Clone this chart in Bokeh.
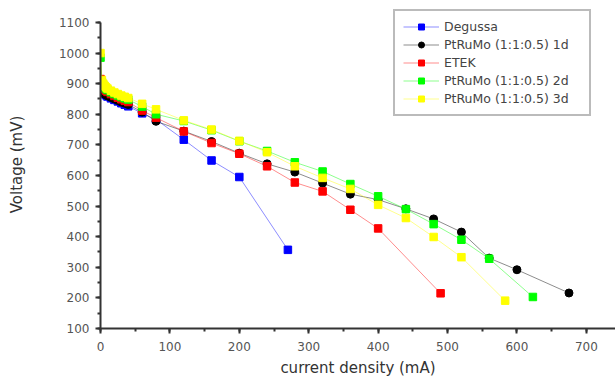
from bokeh.plotting import figure
from bokeh.models import Range1d, SingleIntervalTicker, Legend, LegendItem
from bokeh.embed import file_html
from bokeh.resources import INLINE

# ---- data ----
cur_degussa = [0, 2, 4, 6, 8, 10, 15, 20, 25, 30, 35, 40, 60, 80, 120, 160, 200, 270]
v_degussa = [900, 880, 872, 866, 862, 858, 852, 847, 842, 836, 831, 826, 803, 783, 717, 649, 595, 357]

cur_1d = [0, 2, 4, 6, 8, 10, 15, 20, 25, 30, 35, 40, 60, 80, 120, 160, 200, 240, 280, 320,
          360, 400, 440, 480, 520, 560, 600, 675]
v_1d = [893, 878, 870, 866, 863, 860, 855, 850, 845, 840, 836, 832, 807, 777, 745, 711, 673, 638,
        611, 575, 539, 521, 491, 458, 415, 330, 292, 216]

cur_etek = [0, 2, 4, 6, 8, 10, 15, 20, 25, 30, 35, 40, 60, 80, 120, 160, 200, 240, 280, 320,
            360, 400, 490]
v_etek = [915, 898, 888, 882, 877, 873, 866, 860, 854, 849, 844, 840, 812, 789, 744, 706, 671, 630,
          577, 548, 488, 427, 215]

cur_2d = [0, 2, 4, 6, 8, 10, 15, 20, 25, 30, 35, 40, 60, 80, 120, 160, 200, 240, 280, 320,
          360, 400, 440, 480, 520, 560, 623]
v_2d = [985, 905, 895, 888, 883, 879, 872, 866, 861, 856, 852, 848, 825, 800, 778, 748, 712, 680,
        643, 613, 572, 532, 490, 441, 390, 328, 203]

cur_3d = [0, 2, 4, 6, 8, 10, 15, 20, 25, 30, 35, 40, 60, 80, 120, 160, 200, 240, 280, 320,
          360, 400, 440, 480, 520, 583]
v_3d = [1000, 912, 900, 893, 888, 884, 877, 871, 866, 861, 857, 853, 834, 816, 780, 750, 713, 676,
        630, 592, 556, 504, 461, 399, 333, 191]

series_names = ["Degussa", "PtRuMo (1:1:0.5) 1d", "ETEK", "PtRuMo (1:1:0.5) 2d", "PtRuMo (1:1:0.5) 3d"]
series_x = [cur_degussa, cur_1d, cur_etek, cur_2d, cur_3d]
series_y = [v_degussa, v_1d, v_etek, v_2d, v_3d]
series_colors = ["#0000ff", "#000000", "#ff0000", "#00ff00", "#ffff00"]
series_markers = ["square", "circle", "square", "square", "square"]

FONT = "DejaVu Sans"

p = figure(width=615, height=379, output_backend="svg", toolbar_location=None,
           x_range=Range1d(0, 742), y_range=Range1d(100, 1171.7),
           min_border_left=100, min_border_right=0, min_border_top=0, min_border_bottom=50)
p.outline_line_color = None
p.xgrid.visible = False
p.ygrid.visible = False
p.background_fill_color = "white"
p.border_fill_color = "white"

for ax, title in ((p.xaxis[0], "current density (mA)"), (p.yaxis[0], "Voltage (mV)")):
    ax.ticker = SingleIntervalTicker(interval=100, num_minor_ticks=2)
    ax.axis_label = title
    ax.axis_label_text_font = FONT
    ax.axis_label_text_font_size = "15px"
    ax.axis_label_text_font_style = "normal"
    ax.axis_label_text_color = "#333333"
    ax.major_label_text_font = FONT
    ax.major_label_text_font_size = "12px"
    ax.major_label_text_color = "#555555"
    ax.axis_line_color = "#333333"
    ax.axis_line_width = 2
    ax.major_tick_line_color = "#333333"
    ax.minor_tick_line_color = "#333333"
    ax.major_tick_line_width = 2
    ax.minor_tick_line_width = 2
    ax.major_tick_in = 0
    ax.major_tick_out = 5
    ax.minor_tick_in = 0
    ax.minor_tick_out = 3
    ax.major_label_standoff = 6

p.yaxis[0].bounds = (100, 1100)
p.xaxis[0].major_label_standoff = 8
p.xaxis[0].axis_label_standoff = 5
p.yaxis[0].axis_label_standoff = 30
p.yaxis[0].major_label_orientation = "horizontal"

items = []
for name, xs, ys, col, mk in zip(series_names, series_x, series_y, series_colors, series_markers):
    ln = p.line(xs, ys, line_color=col, line_alpha=0.45, line_width=1)
    if mk == "circle":
        sc = p.scatter(xs, ys, marker="circle", size=8, fill_color=col, line_color=col)
    else:
        sc = p.scatter(xs, ys, marker="square", size=7.5, fill_color=col, line_color=col)
    items.append(LegendItem(label=name, renderers=[ln, sc]))

legend = Legend(items=items, location=(293, 212))
legend.label_text_font = FONT
legend.label_text_font_size = "12.5px"
legend.label_text_color = "#444444"
legend.glyph_width = 36
legend.glyph_height = 15
legend.label_height = 15
legend.spacing = 3
legend.padding = 8
legend.margin = 0
legend.label_standoff = 5
legend.label_width = 137
legend.border_line_color = "#777777"
legend.border_line_width = 2
legend.background_fill_color = "white"
legend.background_fill_alpha = 1
p.add_layout(legend, "center")

open("out.html", "w").write(file_html(p, INLINE))
